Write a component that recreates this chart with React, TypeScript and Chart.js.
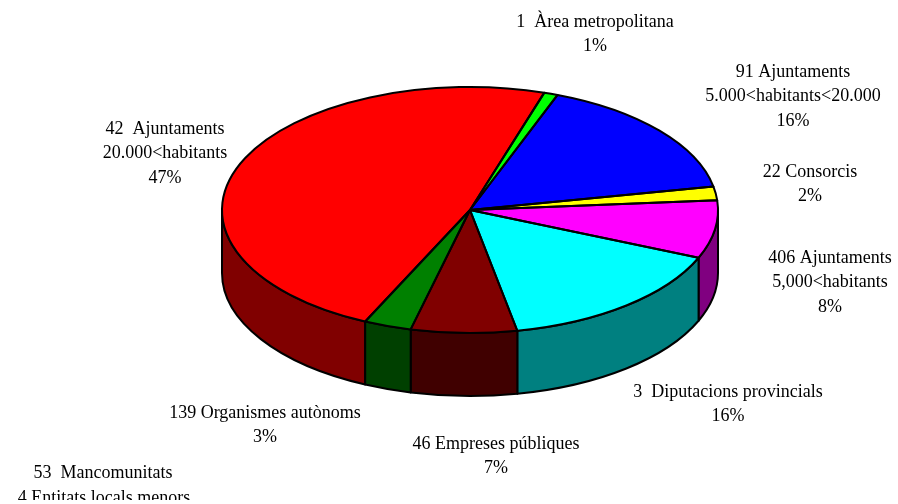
import React, { useEffect, useRef } from "react";
import { Chart, registerables } from "chart.js";

Chart.register(...registerables);

const categories = [
  ["42  Ajuntaments", "20.000<habitants"],
  ["1  Àrea metropolitana"],
  ["91 Ajuntaments", "5.000<habitants<20.000"],
  ["22 Consorcis"],
  ["406 Ajuntaments", "5,000<habitants"],
  ["3  Diputacions provincials"],
  ["46 Empreses públiques"],
  ["139 Organismes autònoms"],
  ["53  Mancomunitats"],
  ["4 Entitats locals menors"],
];
const percentLabels = ["47%", "1%", "16%", "2%", "8%", "16%", "7%", "3%", "", ""];
const shares = [47.9, 0.9, 16.2, 1.8, 7.6, 15.6, 6.9, 3.1, 0, 0];
const topColors = ["#ff0000", "#00ff00", "#0000ff", "#ffff00", "#ff00ff", "#00ffff", "#800000", "#008000", "#000080", "#808000"];
const wallColors = ["#800000", "#008000", "#000080", "#808000", "#800080", "#008080", "#400000", "#004000", "#000040", "#404000"];

// layout of the drawing, kept apart from the data
const RX = 248;
const RY = 123;
const DEPTH = 63;
const labelAnchors = [
  [165, 129], [595, 22], [793, 72], [810, 172], [830, 258],
  [728, 392], [496, 444], [265, 413], [103, 473], [104, 498],
];
const LINE_HEIGHT = 24.5;
const TAU = Math.PI * 2;

const pie3d = {
  id: "pie3d",
  beforeDatasetsDraw(chart: any) {
    const { ctx } = chart;
    const arcs = chart.getDatasetMeta(0).data;
    ctx.save();
    ctx.lineWidth = 2;
    ctx.strokeStyle = "#000";
    ctx.lineJoin = "round";
    arcs.forEach((el: any, i: number) => {
      if (!shares[i]) return;
      for (let k = -1; k <= 2; k++) {
        const a = Math.max(el.startAngle, k * TAU);
        const b = Math.min(el.endAngle, k * TAU + Math.PI);
        if (a >= b) continue;
        ctx.beginPath();
        ctx.ellipse(el.x, el.y, RX, RY, 0, a, b);
        ctx.ellipse(el.x, el.y + DEPTH, RX, RY, 0, b, a, true);
        ctx.closePath();
        ctx.fillStyle = wallColors[i];
        ctx.fill();
        ctx.stroke();
      }
    });
    ctx.restore();
  },
  beforeDatasetDraw(chart: any) {
    const { ctx } = chart;
    const el = chart.getDatasetMeta(0).data[0];
    ctx.save();
    ctx.translate(el.x, el.y);
    ctx.scale(RX / el.outerRadius, RY / el.outerRadius);
    ctx.translate(-el.x, -el.y);
  },
  afterDatasetDraw(chart: any) {
    chart.ctx.restore();
  },
  afterDatasetsDraw(chart: any) {
    const { ctx } = chart;
    const arcs = chart.getDatasetMeta(0).data;
    ctx.save();
    ctx.lineWidth = 2;
    ctx.strokeStyle = "#000";
    ctx.lineJoin = "round";
    arcs.forEach((el: any, i: number) => {
      if (!shares[i]) return;
      ctx.beginPath();
      ctx.moveTo(el.x, el.y);
      ctx.ellipse(el.x, el.y, RX, RY, 0, el.startAngle, el.endAngle);
      ctx.closePath();
      ctx.stroke();
    });
    ctx.restore();

    ctx.save();
    ctx.beginPath();
    ctx.rect(0, 0, chart.width, 500);
    ctx.clip();
    ctx.font = '18px "Liberation Serif"';
    ctx.fillStyle = "#000";
    ctx.textAlign = "center";
    ctx.textBaseline = "middle";
    categories.forEach((lines, i) => {
      const [x, y] = labelAnchors[i];
      const all = percentLabels[i] ? [...lines, percentLabels[i]] : lines;
      all.forEach((line, j) => ctx.fillText(line, x, y + j * LINE_HEIGHT));
    });
    ctx.restore();
  },
};

export default function App() {
  const ref = useRef<HTMLCanvasElement>(null);
  useEffect(() => {
    const chart = new Chart(ref.current!, {
      type: "pie",
      data: {
        labels: categories.map((c) => c.join(" ")),
        datasets: [
          {
            data: shares,
            backgroundColor: topColors,
            borderWidth: 0,
            clip: false,
          } as any,
        ],
      },
      options: {
        responsive: false,
        animation: false,
        rotation: 205,
        layout: { padding: { left: 260, right: 218, top: 0, bottom: 84 } },
        plugins: { legend: { display: false }, tooltip: { enabled: false } },
      },
      plugins: [pie3d],
    } as any);
    return () => chart.destroy();
  }, []);
  return (
    <div style={{ position: "absolute", left: 0, top: 0, width: 898, height: 504, background: "#fff" }}>
      <canvas ref={ref} width={898} height={504} style={{ display: "block" }} />
    </div>
  );
}
